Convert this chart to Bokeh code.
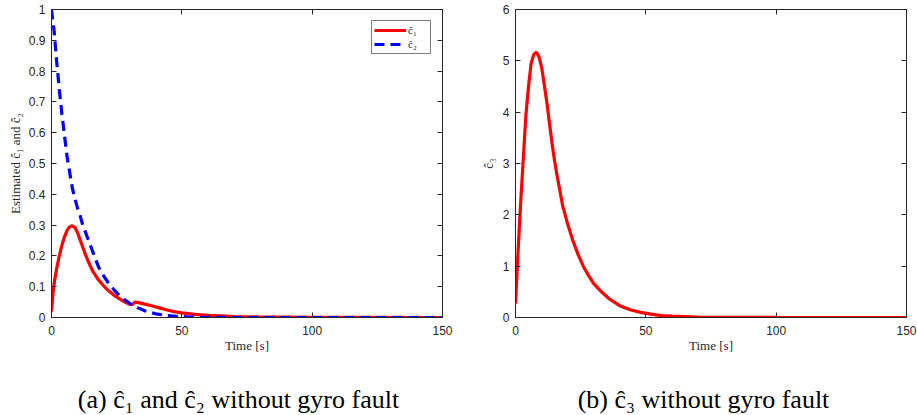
from bokeh.plotting import figure
from bokeh.layouts import row, column
from bokeh.models import (LinearAxis, Label, Legend, LegendItem, PrintfTickFormatter,
                          FixedTicker, CustomJSTickFormatter)
from bokeh.embed import file_html
from bokeh.resources import INLINE

# ---- data ----
t_c1 = [0, 0.5, 1, 2, 3, 4, 5, 6, 7, 8, 9, 10, 11, 12, 13, 14, 15, 16, 18, 20, 22,
        24, 26, 28, 30, 31, 32, 33, 35, 38, 41, 44, 47, 50, 55, 60, 65, 70, 80, 90,
        100, 120, 150]
c1_hat = [0.02, 0.07, 0.11, 0.16, 0.2, 0.235, 0.262, 0.283, 0.295, 0.298, 0.292,
          0.275, 0.252, 0.228, 0.205, 0.184, 0.165, 0.148, 0.122, 0.103, 0.086,
          0.072, 0.061, 0.051, 0.043, 0.042, 0.05, 0.049, 0.045, 0.039, 0.032,
          0.025, 0.019, 0.015, 0.01, 0.007, 0.005, 0.003, 0.0015, 0.001, 0.0005,
          0.0002, 0]

t_c2 = [0, 1, 2, 3, 4, 5, 6, 7, 8, 9, 10, 11, 12, 14, 15, 16, 18, 20, 22, 24, 26,
        28, 30, 33, 36, 40, 44, 48, 52, 56, 60, 70, 150]
c2_hat = [1.0, 0.93, 0.83, 0.74, 0.66, 0.59, 0.52, 0.47, 0.42, 0.385, 0.355, 0.33,
          0.30, 0.255, 0.232, 0.21, 0.165, 0.135, 0.11, 0.09, 0.072, 0.058, 0.046,
          0.032, 0.021, 0.012, 0.007, 0.004, 0.002, 0.001, 0.0005, 0, 0]

t_c3 = [0, 0.5, 1, 1.5, 2, 3, 4, 5, 6, 7, 8, 9, 10, 11, 12, 13, 14, 15, 16, 18, 20,
        22, 24, 26, 28, 30, 33, 36, 40, 44, 48, 52, 56, 60, 70, 80, 100, 150]
c3_hat = [0.27, 0.78, 1.3, 1.78, 2.25, 3.1, 3.95, 4.5, 4.95, 5.12, 5.17, 5.08, 4.88,
          4.55, 4.2, 3.8, 3.4, 3.05, 2.75, 2.2, 1.82, 1.5, 1.23, 1.0, 0.82, 0.66,
          0.5, 0.36, 0.23, 0.15, 0.1, 0.065, 0.038, 0.025, 0.01, 0.004, 0.001, 0]

x_ticks = [0, 50, 100, 150]
y_ticks_a = [0, 0.1, 0.2, 0.3, 0.4, 0.5, 0.6, 0.7, 0.8, 0.9, 1]
y_ticks_b = [0, 1, 2, 3, 4, 5, 6]

caption_a = "(a) ĉ\u2081 and ĉ\u2082 without gyro fault"
caption_b = "(b) ĉ\u2083 without gyro fault"

AX = "#262626"
TICKFONT = "Liberation Sans"
SERIF = "Liberation Serif"


def style(p, xt, yt, yfmt=None):
    p.grid.visible = False
    p.outline_line_color = AX
    p.outline_line_width = 1
    xb = p.xaxis[0]
    yl = p.yaxis[0]
    for ax in (xb, yl):
        ax.axis_line_color = AX
        ax.major_tick_line_color = AX
        ax.major_tick_in = 5
        ax.major_tick_out = 0
        ax.minor_tick_line_color = None
        ax.major_label_text_font = TICKFONT
        ax.major_label_text_font_size = "12px"
        ax.major_label_text_color = AX
        ax.axis_label_text_font = SERIF
        ax.axis_label_text_font_size = "13px"
        ax.axis_label_text_font_style = "normal"
        ax.axis_label_text_color = AX
        ax.major_label_standoff = 6
    xb.ticker = FixedTicker(ticks=xt)
    yl.ticker = FixedTicker(ticks=yt)
    if yfmt:
        yl.formatter = yfmt
    xb.major_label_standoff = 8
    xb.axis_label_standoff = 0
    blank = CustomJSTickFormatter(code="return ''")
    # mirrored ticks on top and right
    top = LinearAxis(ticker=FixedTicker(ticks=xt), formatter=blank,
                     major_tick_in=5, major_tick_out=0, axis_line_color=AX,
                     major_tick_line_color=AX, minor_tick_line_color=None,
                     major_label_standoff=0)
    right = LinearAxis(ticker=FixedTicker(ticks=yt), formatter=blank,
                       major_tick_in=5, major_tick_out=0, axis_line_color=AX,
                       major_tick_line_color=AX, minor_tick_line_color=None,
                       major_label_standoff=0)
    p.add_layout(top, "above")
    p.add_layout(right, "right")
    return xb, yl


# ---- left panel ----
p1 = figure(width=458, height=360, x_range=(0, 150), y_range=(0, 1),
            output_backend="svg", toolbar_location=None,
            min_border_left=51, min_border_right=16, min_border_top=9,
            min_border_bottom=43, background_fill_color="white",
            border_fill_color="white")
xb1, yl1 = style(p1, x_ticks, y_ticks_a, PrintfTickFormatter(format="%g"))
xb1.axis_label = "Time [s]"
yl1.axis_label = "Estimated ĉ\u2081 and ĉ\u2082"
yl1.axis_label_standoff = 3

r1 = p1.line(t_c1, c1_hat, line_color="#ff0000", line_width=3.2)
r2 = p1.line(t_c2, c2_hat, line_color="#0000ff", line_width=3.2, line_dash="10 6")

legend = Legend(items=[LegendItem(label="ĉ\u2081", renderers=[r1]),
                       LegendItem(label="ĉ\u2082", renderers=[r2])],
                location="top_right")
legend.margin = 11
legend.padding = 2
legend.spacing = 0
legend.glyph_width = 32
legend.glyph_height = 14
legend.label_height = 14
legend.label_standoff = 2
legend.label_text_font = SERIF
legend.label_text_font_size = "11px"
legend.label_text_color = AX
legend.border_line_color = "#000000"
legend.border_line_width = 1
legend.background_fill_alpha = 1
p1.add_layout(legend)

# ---- right panel ----
p2 = figure(width=459, height=360, x_range=(0, 150), y_range=(0, 6),
            output_backend="svg", toolbar_location=None,
            min_border_left=57, min_border_right=11, min_border_top=9,
            min_border_bottom=43, background_fill_color="white",
            border_fill_color="white")
xb2, yl2 = style(p2, x_ticks, y_ticks_b)
xb2.axis_label = "Time [s]"
yl2.axis_label = "ĉ\u2083"
yl2.axis_label_standoff = 4
p2.line(t_c3, c3_hat, line_color="#ff0000", line_width=3.2)

# ---- caption strip ----
pc = figure(width=917, height=55, x_range=(0, 1), y_range=(0, 1),
            output_backend="svg", toolbar_location=None,
            x_axis_type=None, y_axis_type=None,
            min_border_left=0, min_border_right=0, min_border_top=0,
            min_border_bottom=0, outline_line_color=None,
            background_fill_color="white", border_fill_color="white")
pc.grid.visible = False
for text, xc in ((caption_a, 238), (caption_b, 703)):
    pc.add_layout(Label(x=xc, y=16, x_units="screen", y_units="screen", text=text,
                        text_align="center", text_baseline="middle",
                        text_font=SERIF, text_font_size="26px",
                        text_color="#000000"))

layout = column(row(p1, p2), pc, spacing=0)
open("out.html", "w").write(file_html(layout, INLINE))
